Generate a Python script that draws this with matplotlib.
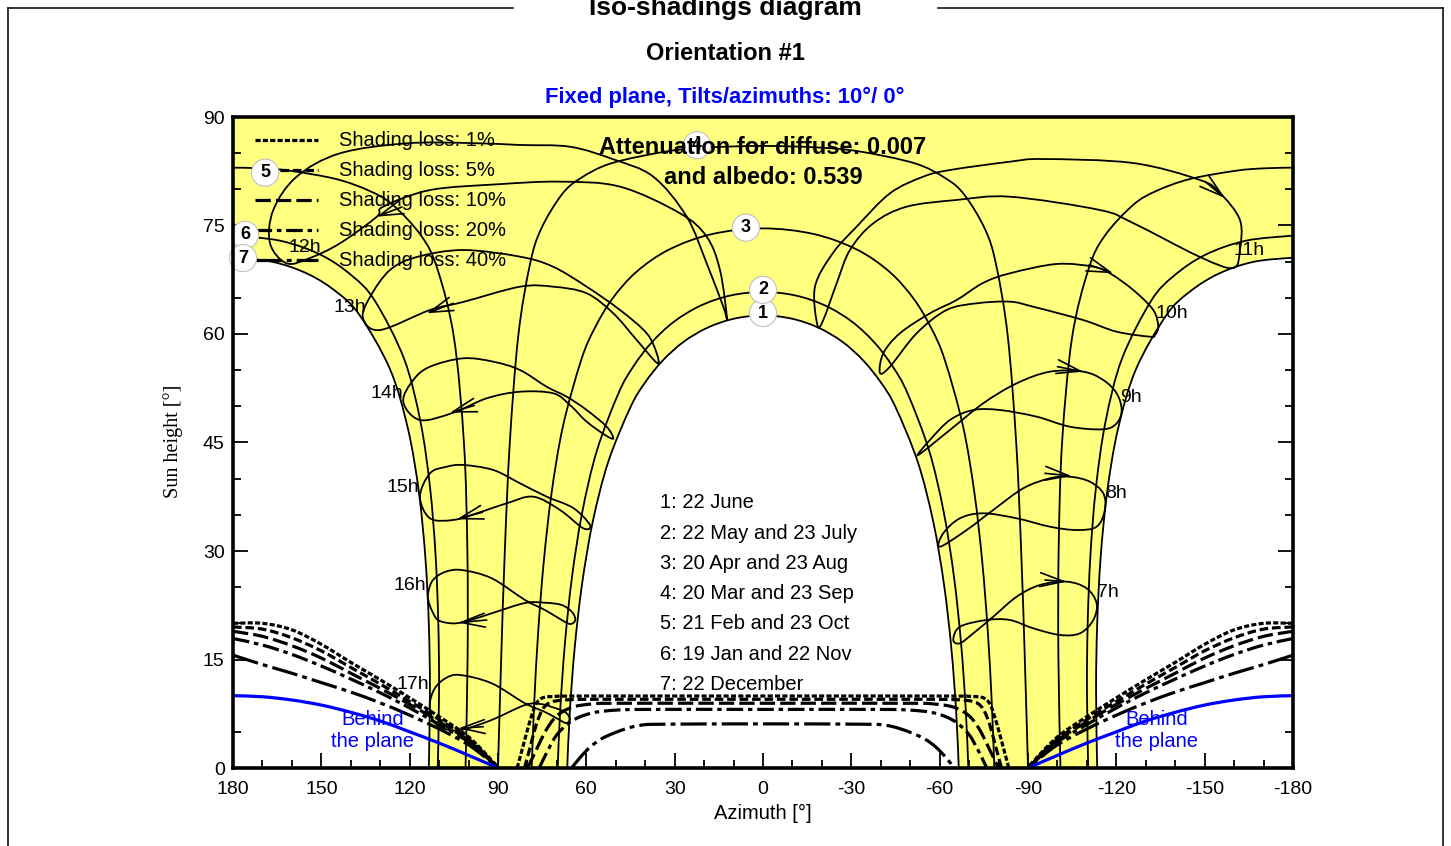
import matplotlib
matplotlib.use('Agg')
import matplotlib.pyplot as plt
from matplotlib.lines import Line2D
from matplotlib.path import Path
from matplotlib.patches import PathPatch

plt.rcParams['font.family'] = ['Liberation Sans', 'DejaVu Sans']

# ---- sun paths (azimuth, height) for the 7 dates ----
d1_az = [-66.48, -65.64, -63.96, -61.44, -57.79, -52.55, -44.99, -40.03, -34.06, -27.0, -18.8, -9.7, 0,
         9.7, 18.8, 27.0, 34.06, 40.03, 44.99, 52.55, 57.79, 61.44, 63.96, 65.64, 66.48]
d1_h = [0, 7.54, 16.58, 25.46, 34.1, 42.33, 49.9, 53.3, 56.33, 58.91, 60.88, 62.13, 62.56,
        62.13, 60.88, 58.91, 56.33, 53.3, 49.9, 42.33, 34.1, 25.46, 16.58, 7.54, 0]
d2_az = [-69.73, -68.88, -67.27, -64.88, -61.42, -56.41, -49.0, -43.98, -37.82, -30.32, -21.35, -11.09, 0,
         11.09, 21.35, 30.32, 37.82, 43.98, 49.0, 56.41, 61.42, 64.88, 67.27, 68.88, 69.73]
d2_h = [0, 7.96, 17.22, 26.36, 35.29, 43.88, 51.88, 55.54, 58.83, 61.67, 63.89, 65.32, 65.8,
        65.32, 63.89, 61.67, 58.83, 55.54, 51.88, 43.88, 35.29, 26.36, 17.22, 7.96, 0]
d3_az = [-78.56, -77.70, -76.37, -74.49, -71.83, -67.89, -61.72, -57.22, -51.23, -43.07, -31.96, -17.35, 0,
         17.35, 31.96, 43.07, 51.23, 57.22, 61.72, 67.89, 71.83, 74.49, 76.37, 77.70, 78.56]
d3_h = [0, 8.98, 18.71, 28.37, 37.94, 47.34, 56.43, 60.75, 64.84, 68.56, 71.66, 73.81, 74.6,
        73.81, 71.66, 68.56, 64.84, 60.75, 56.43, 47.34, 37.94, 28.37, 18.71, 8.98, 0]
d4_az = [-90, -88.93, -87.69, -86.01, -83.11, -79.15, -75.4, -68.4, -62.1, -51.5, -32.1, -17.4, 0,
         17.4, 32.1, 51.5, 62.1, 68.4, 75.4, 79.15, 83.11, 86.01, 87.69, 88.93, 90]
d4_h = [0, 14.96, 29.92, 44.86, 59.76, 69.62, 74.49, 79.24, 81.5, 83.6, 85.28, 85.81, 86,
        85.81, 85.28, 83.6, 81.5, 79.24, 74.49, 69.62, 59.76, 44.86, 29.92, 14.96, 0]
# dates 5-7 cross the south (+/-180): afternoon and morning branches
d5_pm_az = [180, 170, 160.6, 144.95, 133.68, 125.79, 116.05, 110.57, 104.95, 101.56, 100.41, 100.32, 101.03]
d5_am_az = [-180, -170, -160.6, -144.95, -133.68, -125.79, -116.05, -110.57, -104.95, -101.56, -100.41, -100.32, -101.03]
d5_h = [83.0, 82.9, 82.57, 81.42, 79.79, 77.87, 73.57, 68.98, 59.47, 44.89, 30.19, 15.47, 0]
d6_pm_az = [180, 163.9, 150.12, 139.55, 131.76, 121.85, 116.29, 113.06, 111.21, 110.28, 110.02, 110.45]
d6_am_az = [-180, -163.9, -150.12, -139.55, -131.76, -121.85, -116.29, -113.06, -111.21, -110.28, -110.02, -110.45]
d6_h = [73.6, 72.89, 70.93, 68.04, 64.55, 56.51, 47.78, 38.7, 29.46, 20.13, 10.76, 0]
d7_pm_az = [180, 166.5, 154.5, 144.66, 137.0, 126.66, 120.53, 116.84, 114.66, 113.50, 113.12, 113.5]
d7_am_az = [-180, -166.5, -154.5, -144.66, -137.0, -126.66, -120.53, -116.84, -114.66, -113.50, -113.12, -113.5]
d7_h = [70.56, 69.97, 68.29, 65.76, 62.6, 55.12, 46.8, 38.03, 29.04, 19.93, 10.76, 0]

# ---- hour loops (legal time), closed curves ----
h07_az = [-64.62, -66.89, -75.96, -83.87, -91.79, -100.85, -107.65, -112.17, -113.31, -109.91, -103.12,
          -94.06, -86.15, -78.2, -71.41, -66.89]
h07_h = [17.7, 19.53, 20.46, 20.46, 19.31, 18.39, 18.62, 20.46, 22.77, 24.84, 25.76, 25.3, 23.68, 20.92,
         18.62, 17.24]
h08_az = [-60.1, -69.17, -78.2, -88.39, -97.46, -104.25, -111.04, -115.56, -116.13, -113.31, -106.52,
          -97.46, -86.15, -74.8, -66.89, -61.22]
h08_h = [30.59, 32.9, 35.67, 38.67, 40.05, 40.27, 39.58, 37.98, 35.67, 33.36, 32.9, 33.36, 34.52, 35.21,
         34.52, 32.45]
h09_az = [-52.73, -63.49, -74.8, -86.15, -97.46, -108.77, -115.56, -120.11, -121.81, -120.11, -115.56,
          -104.25, -92.94, -80.47, -71.41, -63.49, -56.7]
h09_h = [43.27, 46.73, 50.42, 53.18, 54.79, 54.79, 53.64, 51.8, 49.49, 47.65, 46.83, 47.18, 48.57, 49.49,
         49.49, 48.11, 45.35]
h10_az = [-39.72, -40.85, -46.51, -56.7, -65.77, -74.7, -83.87, -99.73, -112.17, -117.83, -125.75, -132.54,
          -134.24, -133.11, -131.41, -120.1, -108.66, -91.68, -83.87, -72.56, -62.37, -52.19, -43.12]
h10_h = [54.61, 57.33, 60.1, 62.86, 64.7, 67.05, 68.39, 69.68, 69.3, 68.39, 66.08, 63.32, 61.01, 59.86,
         59.63, 60.32, 61.94, 63.78, 64.47, 64.24, 63.32, 60.1, 55.48]
h11_az = [-18.5, -17.65, -23.76, -31.81, -43.12, -54.43, -63.49, -83.87, -95.08, -125.64, -148.39, -155.19,
          -161.98, -161.98, -159.6, -148.39, -125.64, -114.43, -83.87, -65.77, -48.79, -37.45, -29.53,
          -25.02, -20.47]
h11_h = [61.2, 66.54, 71.2, 74.84, 79.45, 81.75, 82.67, 83.82, 84.19, 83.64, 81.29, 79.49, 75.76, 71.61,
         69.12, 70.65, 75.35, 77.14, 78.98, 78.53, 77.6, 75.3, 71.61, 67.01, 61.94]
h12_az = [161.76, 167.43, 166.31, 158.37, 143.66, 121.0, 99.51, 82.53, 65.55, 50.85, 37.27, 25.92, 19.13,
          13.49, 12.24, 14.61, 19.13, 28.2, 48.57, 68.95, 90.0, 113.1, 129.0, 131.2, 143.66, 153.85]
h12_h = [69.77, 72.54, 77.14, 81.75, 84.98, 86.36, 86.4, 86.13, 85.89, 84.15, 81.75, 76.22, 69.77, 63.78,
         62.21, 68.85, 73.45, 76.69, 80.37, 81.06, 80.7, 79.9, 77.6, 76.2, 72.54, 70.51]
h13_az = [135.85, 133.47, 126.68, 117.51, 101.89, 82.53, 71.33, 59.88, 48.57, 39.5, 36.11, 36.0, 42.9,
          50.85, 59.88, 71.22, 82.53, 101.89, 113.1, 130.08]
h13_h = [62.21, 65.12, 68.85, 70.65, 71.61, 70.69, 69.31, 66.54, 63.32, 60.1, 57.33, 56.0, 59.17, 62.86,
         65.63, 66.54, 66.54, 64.42, 63.32, 60.55]
h14_az = [122.17, 118.77, 113.1, 101.79, 91.6, 82.53, 73.47, 66.67, 59.88, 53.09, 50.85, 53.5, 59.88,
          65.55, 71.22, 82.53, 93.84, 105.19, 116.49]
h14_h = [50.64, 53.64, 55.48, 56.64, 56.17, 55.02, 52.71, 51.33, 49.49, 47.18, 45.58, 46.0, 47.88, 50.18,
         51.8, 52.02, 51.11, 49.12, 48.11]
h15_az = [116.49, 113.1, 107.43, 101.79, 91.6, 82.53, 73.47, 64.43, 58.76, 61.04, 68.95, 78.02, 87.05,
          97.24, 105.19, 113.1]
h15_h = [37.51, 40.74, 41.65, 41.89, 41.2, 39.36, 37.51, 35.94, 33.59, 33.14, 35.67, 37.51, 36.59, 35.21,
         34.29, 34.52]
h16_az = [113.68, 112.08, 108.0, 102.33, 92.14, 80.84, 74.04, 68.95, 65.55, 63.76, 64.87, 68.37, 74.04,
          80.84, 92.14, 101.21, 105.73, 110.38, 112.52, 113.68]
h16_h = [24.34, 25.99, 27.1, 27.37, 26.23, 23.23, 21.84, 20.6, 19.91, 20.46, 21.57, 22.53, 22.85, 22.81,
         21.39, 20.23, 20.0, 20.46, 21.84, 23.23]
h17_az = [113.1, 111.4, 107.67, 102.9, 92.14, 80.84, 74.04, 69.63, 66.91, 65.55, 67.25, 71.67, 75.74,
          80.84, 92.14, 101.21, 106.3, 110.72, 112.76]
h17_h = [9.12, 11.06, 12.44, 12.86, 11.71, 8.94, 7.74, 6.77, 6.22, 6.77, 7.74, 8.43, 8.85, 8.71, 6.64,
         5.39, 5.25, 5.94, 7.33]

# arrows on the hour loops: tip and tail
arr_tip_az = [131.2, 114.22, 106.3, 104.03, 103.49, 103.49, -108.77, -104.82, -103.12, -118.96, -156.88]
arr_tip_h = [76.22, 62.86, 49.12, 34.38, 20.09, 5.49, 54.79, 40.37, 25.76, 68.39, 78.8]
arr_tail_az = [122.61, 105.19, 98.09, 95.27, 93.84, 95.0, -100.0, -95.76, -95.76, -110.77, -150.09]
arr_tail_h = [77.56, 64.24, 50.12, 35.36, 20.46, 5.71, 55.48, 40.74, 25.99, 69.58, 81.08]

hour_labels = ['12h', '13h', '14h', '15h', '16h', '17h', '7h', '8h', '9h', '10h', '11h']
hour_lab_az = [155.5, 140.3, 127.7, 122.3, 119.9, 118.9, -117.2, -119.9, -125.0, -138.9, -165.0]
hour_lab_h = [72.0, 63.7, 51.8, 38.8, 25.2, 11.5, 24.3, 38.0, 51.2, 62.9, 71.6]

date_nums = ['1', '2', '3', '4', '5', '6', '7']
date_lab_az = [0, 0, 5.8, 22.4, 169.1, 175.9, 176.6]
date_lab_h = [62.9, 66.1, 74.7, 86.1, 82.3, 73.7, 70.5]
date_names = ['1: 22 June', '2: 22 May and 23 July', '3: 20 Apr and 23 Aug', '4: 20 Mar and 23 Sep',
              '5: 21 Feb and 23 Oct', '6: 19 Jan and 22 Nov', '7: 22 December']

# ---- iso-shading lines ----
loss_labels = ['Shading loss: 1%', 'Shading loss: 5%', 'Shading loss: 10%', 'Shading loss: 20%',
               'Shading loss: 40%']
side_pm_az = [180, 170, 160, 150, 140, 130, 120, 110, 100, 92, 90]
side_am_az = [-180, -170, -160, -150, -140, -130, -120, -110, -100, -92, -90]
side_h = [
    [20.0, 20.0, 19.1, 17.1, 14.6, 12.2, 9.7, 7.1, 4.3, 1.0, 0],
    [19.5, 19.2, 18.0, 16.2, 13.9, 11.6, 9.2, 6.7, 4.0, 0.9, 0],
    [18.9, 18.2, 16.9, 15.2, 13.1, 11.0, 8.8, 6.4, 3.8, 0.8, 0],
    [17.9, 17.0, 15.7, 14.1, 12.3, 10.4, 8.3, 6.0, 3.6, 0.8, 0],
    [15.6, 14.3, 13.1, 11.8, 10.5, 9.0, 7.3, 5.4, 3.2, 0.7, 0],
]
mid_az = [
    [83.5, 81.5, 79.5, 77.5, 76, 74, 70, 60, 0, -60, -70, -74, -76, -77.5, -79.5, -81.5, -83.5],
    [81, 79, 77, 75, 73, 70, 65, 55, 0, -55, -65, -70, -73, -75, -77, -79, -81],
    [80, 77, 74, 71, 68, 64, 58, 50, 0, -50, -58, -64, -68, -71, -74, -77, -80],
    [76, 73, 70, 66, 62, 57, 50, 40, 0, -40, -50, -57, -62, -66, -70, -73, -76],
    [65, 62, 58.7, 55, 50.8, 46, 41.7, 35, 0, -35, -41.7, -46, -50.8, -55, -58.7, -62, -65],
]
mid_h = [
    [0, 3, 6, 8.5, 9.4, 9.8, 9.9, 9.95, 9.95, 9.95, 9.9, 9.8, 9.4, 8.5, 6, 3, 0],
    [0, 3, 6, 8, 8.9, 9.3, 9.45, 9.5, 9.5, 9.5, 9.45, 9.3, 8.9, 8, 6, 3, 0],
    [0, 2.5, 5, 6.8, 7.8, 8.5, 8.85, 8.95, 8.95, 8.95, 8.85, 8.5, 7.8, 6.8, 5, 2.5, 0],
    [0, 2.5, 4.6, 6.2, 7.1, 7.7, 8.0, 8.1, 8.1, 8.1, 8.0, 7.7, 7.1, 6.2, 4.6, 2.5, 0],
    [0, 1.5, 2.9, 4.0, 4.8, 5.5, 5.9, 6.05, 6.1, 6.05, 5.9, 5.5, 4.8, 4.0, 2.9, 1.5, 0],
]
loss_styles = [(0, (1.6, 0.7)), (0, (2.7, 1.2)), (0, (4.8, 1.6)), (0, (5.2, 1.5, 1.4, 1.5)),
               (0, (8.2, 1.6, 1.5, 1.6))]

# plane horizon (behind the plane)
plane_pm_az = [180, 170, 160, 150, 140, 130, 120, 110, 100, 90]
plane_am_az = [-180, -170, -160, -150, -140, -130, -120, -110, -100, -90]
plane_h = [10.0, 9.85, 9.4, 8.7, 7.7, 6.5, 5.0, 3.45, 1.75, 0.0]


def smooth_path(xs, ys, closed=False):
    # smooth drawing through the given points (Catmull-Rom as Bezier segments)
    pts = list(zip(xs, ys))
    n = len(pts)
    verts = [pts[0]]
    codes = [Path.MOVETO]
    for i in (range(n) if closed else range(n - 1)):
        p0 = pts[i - 1] if (closed or i > 0) else pts[i]
        p1 = pts[i]
        p2 = pts[(i + 1) % n]
        p3 = pts[(i + 2) % n] if (closed or i + 2 < n) else p2
        c1 = (p1[0] + (p2[0] - p0[0]) / 6, p1[1] + (p2[1] - p0[1]) / 6)
        c2 = (p2[0] - (p3[0] - p1[0]) / 6, p2[1] - (p3[1] - p1[1]) / 6)
        verts += [c1, c2, p2]
        codes += [Path.CURVE4] * 3
    return verts, codes


def draw_curve(ax, xs, ys, closed=False, **kw):
    v, c = smooth_path(xs, ys, closed)
    ax.add_patch(PathPatch(Path(v, c), fill=False, **kw))


def fill_under(ax, xs, ys, extra, **kw):
    v, c = smooth_path(xs, ys)
    v = v + extra + [v[0]]
    c = c + [Path.LINETO] * len(extra) + [Path.CLOSEPOLY]
    ax.add_patch(PathPatch(Path(v, c), **kw))


W, H = 1451, 846
fig = plt.figure(figsize=(W / 100, H / 100), dpi=100)
ax = fig.add_axes([233 / W, 1 - 768 / H, 1060 / W, 651 / H])
ax.set_facecolor('#ffff80')
ax.set_xlim(180, -180)
ax.set_ylim(0, 90)

# white areas never reached by the sun
fill_under(ax, d1_az, d1_h, [], fc='white', ec='none', zorder=1)
fill_under(ax, d7_pm_az, d7_h, [(180, 0)], fc='white', ec='none', zorder=1)
fill_under(ax, d7_am_az, d7_h, [(-180, 0)], fc='white', ec='none', zorder=1)

lw_c = 1.3
for az, h in [(d1_az, d1_h), (d2_az, d2_h), (d3_az, d3_h), (d4_az, d4_h),
              (d5_pm_az, d5_h), (d5_am_az, d5_h), (d6_pm_az, d6_h), (d6_am_az, d6_h),
              (d7_pm_az, d7_h), (d7_am_az, d7_h)]:
    draw_curve(ax, az, h, ec='black', lw=lw_c, zorder=3)

for az, h in [(h07_az, h07_h), (h08_az, h08_h), (h09_az, h09_h), (h10_az, h10_h), (h11_az, h11_h),
              (h12_az, h12_h), (h13_az, h13_h), (h14_az, h14_h), (h15_az, h15_h), (h16_az, h16_h),
              (h17_az, h17_h)]:
    draw_curve(ax, az, h, closed=True, ec='black', lw=lw_c, zorder=3)

for i in range(len(arr_tip_az)):
    ax.annotate('', xy=(arr_tip_az[i], arr_tip_h[i]), xytext=(arr_tail_az[i], arr_tail_h[i]),
                arrowprops=dict(arrowstyle='->,head_length=1.7,head_width=0.5', lw=1.2,
                                color='black', shrinkA=0, shrinkB=0), zorder=4)

# iso-shading lines
for k in range(5):
    kw = dict(ec='black', lw=2.3, linestyle=loss_styles[k], zorder=5)
    draw_curve(ax, side_pm_az, side_h[k], **kw)
    draw_curve(ax, side_am_az, side_h[k], **kw)
    draw_curve(ax, mid_az[k], mid_h[k], **kw)

draw_curve(ax, plane_pm_az, plane_h, ec='#0000ff', lw=2.3, zorder=5)
draw_curve(ax, plane_am_az, plane_h, ec='#0000ff', lw=2.3, zorder=5)
ax.text(132.5, 5.2, 'Behind\nthe plane', color='#0000ff', fontsize=14.5, ha='center', va='center',
        multialignment='center', zorder=6)
ax.text(-133.8, 5.2, 'Behind\nthe plane', color='#0000ff', fontsize=14.5, ha='center', va='center',
        multialignment='center', zorder=6)

# hour labels
for lab, x, y in zip(hour_labels, hour_lab_az, hour_lab_h):
    ax.text(x, y, lab, fontsize=14, ha='center', va='center', zorder=6)

# legend of iso-shading lines (top left)
for k in range(5):
    yk = 1 - (140 + 30 * k - 117) / 651
    ax.plot([22 / 1060, 85 / 1060], [yk, yk], transform=ax.transAxes, color='black', lw=2.3,
            linestyle=loss_styles[k], zorder=6)
    ax.text(106 / 1060, yk, loss_labels[k], transform=ax.transAxes, fontsize=14.5, va='center',
            ha='left', zorder=6)

# date number circles
for lab, x, y in zip(date_nums, date_lab_az, date_lab_h):
    ax.text(x, y, lab, fontsize=13, weight='bold', ha='center', va='center', zorder=8,
            bbox=dict(boxstyle='circle,pad=0.28', fc='white', ec='#c0c0c0', lw=0.8))

# date list
for i, name in enumerate(date_names):
    ax.text(427 / 1060, (768 - (503 + 30.2 * i)) / 651, name, transform=ax.transAxes, fontsize=14.5,
            ha='left', va='center', zorder=6)

ax.text(0.5, (768 - 147) / 651, 'Attenuation for diffuse: 0.007', transform=ax.transAxes,
        fontsize=17, weight='bold', ha='center', va='center', zorder=9)
ax.text(0.5, (768 - 177) / 651, 'and albedo: 0.539', transform=ax.transAxes,
        fontsize=17, weight='bold', ha='center', va='center', zorder=9)

# axes styling
ax.set_xticks(range(180, -181, -30))
ax.set_xticklabels(['180', '150', '120', '90', '60', '30', '0', '-30', '-60', '-90', '-120', '-150', '-180'])
ax.set_xticks(range(180, -181, -10), minor=True)
ax.set_yticks(range(0, 91, 15))
ax.set_yticks(range(0, 91, 5), minor=True)
ax.tick_params(which='both', direction='in', top=False, right=True, width=1.3, labelsize=14)
ax.tick_params(which='major', length=11)
ax.tick_params(axis='x', which='major', pad=9)
ax.tick_params(axis='y', which='major', pad=6)
ax.tick_params(which='minor', length=6)
for s in ax.spines.values():
    s.set_linewidth(2.6)
    s.set_zorder(10)

fig.text(763 / W, 1 - 813 / H, 'Azimuth [°]', fontsize=14.5, ha='center', va='center')
fig.text(173 / W, 1 - 441 / H, 'Sun height [°]', fontsize=14.5, ha='center', va='center', rotation=90,
         family='Liberation Serif')

# titles
fig.text(725 / W, 1 - 15 / H, 'Iso-shadings diagram', fontsize=19, weight='bold', ha='center',
         va='baseline')
fig.text(725 / W, 1 - 53 / H, 'Orientation #1', fontsize=17, weight='bold', ha='center', va='center')
fig.text(725 / W, 1 - 97 / H, 'Fixed plane, Tilts/azimuths: 10°/ 0°', fontsize=15.8, weight='bold',
         color='#0000ff', ha='center', va='center')

# page frame with gap for the title
ytop = 1 - 8 / H
for xs, ys in [([8 / W, 513 / W], [ytop, ytop]), ([938 / W, 1443 / W], [ytop, ytop]),
               ([8 / W, 8 / W], [ytop, 0]), ([1443 / W, 1443 / W], [ytop, 0])]:
    fig.add_artist(Line2D(xs, ys, transform=fig.transFigure, color='black', lw=1.1))

fig.savefig('out.png', dpi=100)
